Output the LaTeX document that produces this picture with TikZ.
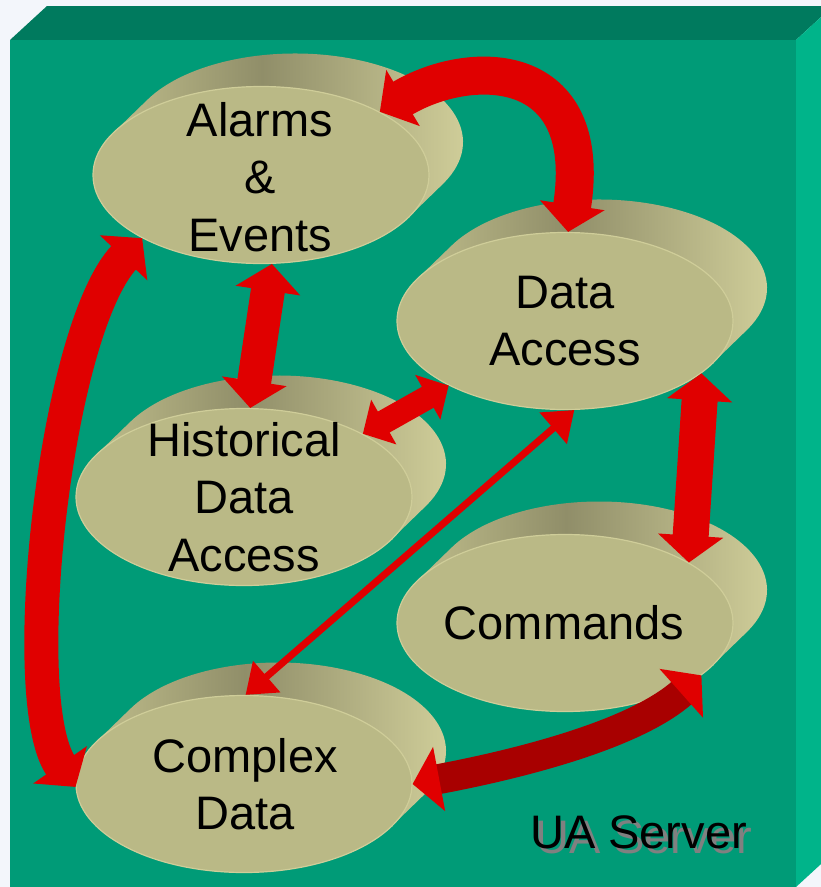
\documentclass[tikz,border=0pt]{standalone}
\usepackage{fontspec}
\setmainfont{Liberation Sans}
\usetikzlibrary{shapes.geometric,arrows.meta}
\definecolor{bgc}{HTML}{F3F6FB}
\definecolor{boxtop}{HTML}{007A5E}
\definecolor{boxfront}{HTML}{009B77}
\definecolor{boxside}{HTML}{00B48A}
\definecolor{disctop}{HTML}{BAB986}
\definecolor{discrim}{HTML}{CFCD99}
\definecolor{sidea}{HTML}{BEBC8A}
\definecolor{sideb}{HTML}{908E69}
\definecolor{sidec}{HTML}{D6D49E}
\definecolor{arrowred}{HTML}{E00000}
\definecolor{arrowdark}{HTML}{A80000}
\pgfdeclarehorizontalshading{discside}{100bp}{color(0bp)=(sidea); color(25bp)=(sidea); color(45bp)=(sideb); color(75bp)=(sidec); color(100bp)=(sidec)}
\newcommand\discbody[1]{%
  \shade[shading=discside, shift={(#1)}]
    (152.22:168 and 88.5) -- ++(34,33)
    arc[start angle=152.22, end angle=-27.78, x radius=168, y radius=88.5]
    -- (-27.78:168 and 88.5) -- cycle;}
\tikzset{
  disc/.style={ellipse, fill=disctop, draw=discrim, line width=1.2pt,
    minimum width=336pt, minimum height=177pt, inner sep=0pt},
  disctext/.style={align=center, inner sep=0pt, text=black,
    font=\fontsize{47pt}{57.5pt}\selectfont},
  ribbon/.style={draw=arrowred, line width=#1},
  bighead/.style={{Triangle[length=27pt,width=64pt,color=arrowred]}-{Triangle[length=27pt,width=64pt,color=arrowred]}},
  midhead/.style={{Triangle[length=24pt,width=50pt]}-{Triangle[length=24pt,width=50pt]}},
  thinhead/.style={{Triangle[length=28pt,width=40pt]}-{Triangle[length=28pt,width=40pt]}},
}
\begin{document}
\begin{tikzpicture}[x=1pt,y=1pt]
\clip (0,-887) rectangle (821,0);
\fill[bgc] (0,-887) rectangle (821,0);
% server box
\fill[boxtop] (10,-40) -- (47,-6) -- (833,-6) -- (796,-40) -- cycle;
\fill[boxside] (796,-40) -- (833,-6) -- (833,-853) -- (796,-887) -- cycle;
\fill[boxfront] (10,-40) rectangle (796,-887);
% disc centres
\coordinate (cae) at (261,-175);
\coordinate (cda) at (565,-321);
\coordinate (chda) at (244,-497);
\coordinate (ccmd) at (565,-623);
\coordinate (ccd) at (244,-784);
% discs
\discbody{cae}
\node[disc] (ae) at (cae) {};
\discbody{cda}
\node[disc] (da) at (cda) {};
\discbody{chda}
\node[disc] (hda) at (chda) {};
\discbody{ccmd}
\node[disc] (cmd) at (ccmd) {};
\discbody{ccd}
\node[disc] (cd) at (ccd) {};
% labels
\node[disctext] (ae-t) at (260,-177) {Alarms\\\&\\Events};
\node[disctext] (da-t) at (565,-321) {Data\\Access};
\node[disctext] (hda-t) at (244,-497) {Historical\\Data\\Access};
\node[disctext] (cmd-t) at (564,-623) {Commands};
\node[disctext] (cd-t) at (245,-784) {Complex\\Data};
% server label with its shadow
\node[disctext, anchor=base west, text=black!50] (ua-s) at (535,-853) {UA Server};
\node[disctext, anchor=base west] (ua) at (530,-848) {UA Server};
% arrows
\draw[ribbon=38pt, bighead] (ae.28) .. controls (470,-58) and (595,-58) .. (da.88);
\draw[ribbon=34pt, bighead] (ae.-83) -- (hda.86);
\draw[ribbon=24pt, midhead] (hda.28) -- (da.209);
\draw[ribbon=7pt, thinhead] (da.-84) -- (cd.89);
\draw[ribbon=36pt, bighead] (da.-21) -- (cmd.26);
\draw[ribbon=30pt, bighead, draw=arrowdark] (cmd.-21) .. controls (640,-730) and (540,-760) .. (cd.0);
\draw[ribbon=34pt, bighead] (ae.208) .. controls (55,-330) and (15,-700) .. (cd.181);
\end{tikzpicture}
\end{document}
